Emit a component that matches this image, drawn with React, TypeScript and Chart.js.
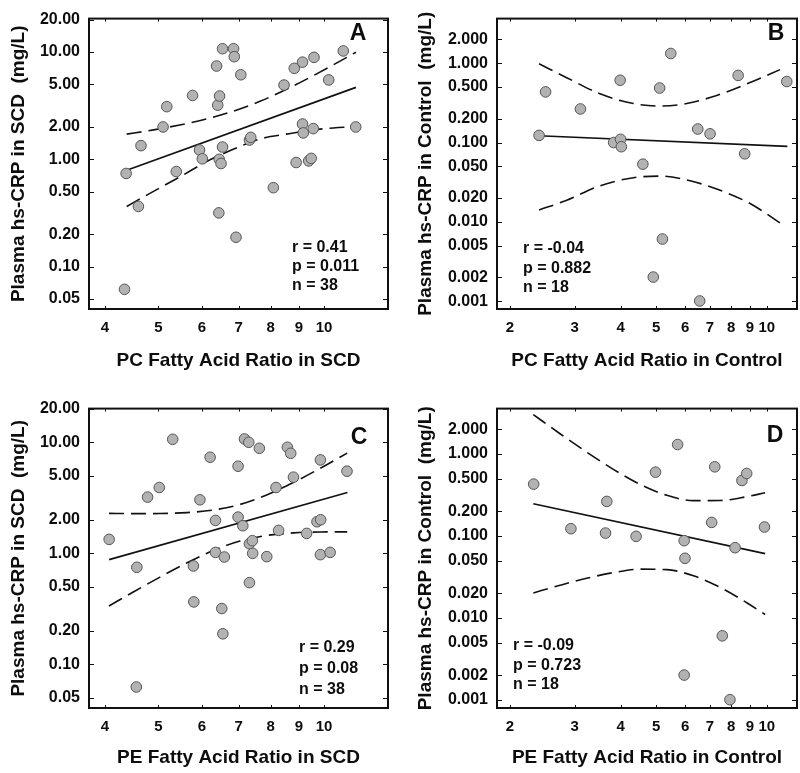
import React, { useEffect, useRef } from "react";
import { Chart, registerables } from "chart.js";

Chart.register(...registerables);

// ---------------- Data ----------------
// Panel A: PC fatty acid ratio vs hs-CRP in SCD
const A_X = [4.34, 4.37, 4.6, 4.65, 5.1, 5.18, 5.39, 5.77, 5.94, 6.01, 6.38, 6.41, 6.46, 6.44, 6.45, 6.5, 6.54, 6.54, 6.85, 6.87, 6.92, 7.06, 7.32, 7.36, 8.09, 8.46, 8.83, 8.9, 9.14, 9.14, 9.17, 9.38, 9.48, 9.56, 9.59, 10.2, 10.84, 11.42];
const A_Y = [0.0616, 0.738, 0.364, 1.34, 2.0, 3.09, 0.769, 3.93, 1.22, 1.01, 7.38, 3.19, 3.88, 0.317, 1.0, 0.914, 1.3, 10.7, 10.7, 9.02, 0.188, 6.12, 1.51, 1.6, 0.544, 4.91, 7.03, 0.933, 8.02, 2.13, 1.76, 0.966, 1.02, 1.93, 8.89, 5.48, 10.2, 2.0];
const A_FIT_X = [4.38, 11.43];
const A_FIT_Y = [0.79, 4.67];
const A_BAND_X = [4.38, 4.9, 5.47, 6.12, 6.84, 7.65, 8.55, 9.56, 10.4, 11.43];
const A_UPPER = [1.715, 1.877, 2.087, 2.373, 2.802, 3.467, 4.487, 6.003, 7.574, 9.93];
const A_LOWER = [0.364, 0.503, 0.685, 0.953, 1.239, 1.546, 1.715, 1.876, 1.956, 2.011];
const A_STATS = ["r = 0.41", "p = 0.011", "n = 38"];

// Panel B: PC fatty acid ratio vs hs-CRP in Control
const B_X = [2.4, 2.5, 3.11, 3.83, 3.99, 4.0, 4.02, 4.6, 4.91, 5.11, 5.2, 5.48, 6.49, 6.57, 7.01, 8.36, 8.71, 11.34];
const B_Y = [0.1229, 0.4346, 0.2648, 0.1, 0.609, 0.1098, 0.0886, 0.0534, 0.00202, 0.486, 0.00609, 1.324, 0.148, 0.00101, 0.1288, 0.7007, 0.0721, 0.5866];
const B_FIT_X = [2.4, 11.38];
const B_FIT_Y = [0.1217, 0.0894];
const B_BAND_X = [2.4, 2.854, 3.516, 4.334, 5.122, 6.055, 7.308, 9.008, 10.87];
const B_UPPER = [0.981, 0.656, 0.411, 0.31, 0.288, 0.31, 0.392, 0.57, 0.829];
const B_LOWER = [0.01414, 0.01873, 0.02852, 0.03605, 0.03778, 0.03378, 0.02598, 0.01705, 0.00972];
const B_STATS = ["r = -0.04", "p = 0.882", "n = 18"];

// Panel C: PE fatty acid ratio vs hs-CRP in SCD
const C_X = [4.07, 4.57, 4.56, 4.78, 5.02, 5.31, 5.79, 5.8, 5.95, 6.21, 6.35, 6.35, 6.52, 6.59, 6.55, 6.98, 6.98, 7.12, 7.17, 7.3, 7.32, 7.32, 7.41, 7.42, 7.63, 7.87, 8.18, 8.27, 8.58, 8.7, 8.8, 9.3, 9.71, 9.85, 9.86, 9.85, 10.26, 11.01];
const C_Y = [1.336, 0.749, 0.0626, 3.21, 3.915, 10.64, 0.77, 0.3655, 3.034, 7.335, 1.979, 1.02, 0.3184, 0.927, 0.1886, 6.087, 2.12, 1.772, 10.71, 10.0, 1.221, 0.545, 1.3, 1.0, 8.83, 0.934, 3.915, 1.609, 9.02, 7.96, 4.85, 1.512, 1.925, 6.94, 2.006, 0.973, 1.02, 5.49];
const C_FIT_X = [4.07, 11.03];
const C_FIT_Y = [0.877, 3.53];
const C_BAND_X = [4.067, 4.503, 5.035, 5.628, 6.293, 7.036, 7.867, 8.796, 9.835, 11.02];
const C_UPPER = [2.292, 2.278, 2.284, 2.328, 2.455, 2.755, 3.353, 4.342, 5.816, 7.988];
const C_LOWER = [0.3358, 0.4488, 0.6113, 0.8189, 1.06, 1.29, 1.448, 1.527, 1.557, 1.561];
const C_STATS = ["r = 0.29", "p = 0.08", "n = 38"];

// Panel D: PE fatty acid ratio vs hs-CRP in Control
const D_X = [2.32, 2.93, 3.64, 3.67, 4.41, 4.98, 5.72, 5.96, 5.99, 5.96, 7.08, 7.22, 7.57, 7.94, 8.2, 8.56, 8.82, 9.86];
const D_Y = [0.4277, 0.1225, 0.1084, 0.2633, 0.0988, 0.5985, 1.299, 0.0875, 0.0534, 0.002015, 0.1462, 0.695, 0.00606, 0.00101, 0.0719, 0.4738, 0.5766, 0.1283];
const D_FIT_X = [2.315, 9.9];
const D_FIT_Y = [0.2466, 0.0608];
const D_BAND_X = [2.315, 2.737, 3.235, 3.824, 4.519, 5.342, 6.315, 7.465, 8.823, 9.9];
const D_UPPER = [3.008, 1.759, 1.049, 0.6474, 0.4253, 0.3125, 0.269, 0.2702, 0.3009, 0.3355];
const D_LOWER = [0.02021, 0.02503, 0.03046, 0.03571, 0.03936, 0.03885, 0.03269, 0.0236, 0.01535, 0.01102];
const D_STATS = ["r = -0.09", "p = 0.723", "n = 18"];

// Tick values and labels
const X_TICKS_SCD = [4, 5, 6, 7, 8, 9, 10];
const X_LABELS_SCD = ["4", "5", "6", "7", "8", "9", "10"];
const X_TICKS_CTRL = [2, 3, 4, 5, 6, 7, 8, 9, 10];
const X_LABELS_CTRL = ["2", "3", "4", "5", "6", "7", "8", "9", "10"];
const Y_TICKS_SCD = [0.05, 0.1, 0.2, 0.5, 1, 2, 5, 10, 20];
const Y_LABELS_SCD = ["0.05", "0.10", "0.20", "0.50", "1.00", "2.00", "5.00", "10.00", "20.00"];
const Y_TICKS_CTRL = [0.001, 0.002, 0.005, 0.01, 0.02, 0.05, 0.1, 0.2, 0.5, 1, 2];
const Y_LABELS_CTRL = ["0.001", "0.002", "0.005", "0.010", "0.020", "0.050", "0.100", "0.200", "0.500", "1.000", "2.000"];

// ---------------- Styling ----------------
const FONT = '"Liberation Sans", Arial, Helvetica, sans-serif';
const TXT = "#0d0d0d";

const toPts = (xs: number[], ys: number[]) => xs.map((x, i) => ({ x, y: ys[i] }));

type PanelCfg = {
  left: number; top: number; w: number; h: number;
  padTop: number; padRight: number; yW: number; xH: number;
  xMin: number; xMax: number; yMin: number; yMax: number;
  xTicks: number[]; xLabels: string[]; yTicks: number[]; yLabels: string[];
  xTitle: string; yTitle: string; xTitlePad: number; yTitlePad: number;
  px: number[]; py: number[]; fx: number[]; fy: number[];
  bx: number[]; bu: number[]; bl: number[];
  stats: string[]; statsX: number; statsY: number[];
  letter: string; letterX: number; letterY: number;
};

const PANELS: PanelCfg[] = [
  {
    left: 0, top: 0, w: 400, h: 390, padTop: 9, padRight: 12, yW: 89, xH: 81,
    xMin: 3.741, xMax: 13.07, yMin: 0.0404, yMax: 20.4,
    xTicks: X_TICKS_SCD, xLabels: X_LABELS_SCD, yTicks: Y_TICKS_SCD, yLabels: Y_LABELS_SCD,
    xTitle: "PC Fatty Acid Ratio in SCD", yTitle: "Plasma hs-CRP in SCD  (mg/L)", xTitlePad: 18, yTitlePad: 7,
    px: A_X, py: A_Y, fx: A_FIT_X, fy: A_FIT_Y, bx: A_BAND_X, bu: A_UPPER, bl: A_LOWER,
    stats: A_STATS, statsX: 292, statsY: [248, 267, 286],
    letter: "A", letterX: 358, letterY: 34,
  },
  {
    left: 400, top: 0, w: 400, h: 390, padTop: 9, padRight: 3, yW: 97, xH: 81,
    xMin: 1.8435, xMax: 12.09, yMin: 0.0008, yMax: 3.64,
    xTicks: X_TICKS_CTRL, xLabels: X_LABELS_CTRL, yTicks: Y_TICKS_CTRL, yLabels: Y_LABELS_CTRL,
    xTitle: "PC Fatty Acid Ratio in Control", yTitle: "Plasma hs-CRP in Control  (mg/L)", xTitlePad: 18, yTitlePad: 14,
    px: B_X, py: B_Y, fx: B_FIT_X, fy: B_FIT_Y, bx: B_BAND_X, bu: B_UPPER, bl: B_LOWER,
    stats: B_STATS, statsX: 123, statsY: [249, 269, 288],
    letter: "B", letterX: 376, letterY: 34,
  },
  {
    left: 0, top: 390, w: 400, h: 383, padTop: 18, padRight: 12, yW: 89, xH: 65,
    xMin: 3.741, xMax: 13.07, yMin: 0.0405, yMax: 20.1,
    xTicks: X_TICKS_SCD, xLabels: X_LABELS_SCD, yTicks: Y_TICKS_SCD, yLabels: Y_LABELS_SCD,
    xTitle: "PE Fatty Acid Ratio in SCD", yTitle: "Plasma hs-CRP in SCD  (mg/L)", xTitlePad: 4, yTitlePad: 7,
    px: C_X, py: C_Y, fx: C_FIT_X, fy: C_FIT_Y, bx: C_BAND_X, bu: C_UPPER, bl: C_LOWER,
    stats: C_STATS, statsX: 299, statsY: [258, 279, 300],
    letter: "C", letterX: 359, letterY: 48,
  },
  {
    left: 400, top: 390, w: 400, h: 383, padTop: 18, padRight: 3, yW: 97, xH: 65,
    xMin: 1.8435, xMax: 12.09, yMin: 0.0008, yMax: 3.56,
    xTicks: X_TICKS_CTRL, xLabels: X_LABELS_CTRL, yTicks: Y_TICKS_CTRL, yLabels: Y_LABELS_CTRL,
    xTitle: "PE Fatty Acid Ratio in Control", yTitle: "Plasma hs-CRP in Control  (mg/L)", xTitlePad: 4, yTitlePad: 14,
    px: D_X, py: D_Y, fx: D_FIT_X, fy: D_FIT_Y, bx: D_BAND_X, bu: D_UPPER, bl: D_LOWER,
    stats: D_STATS, statsX: 113, statsY: [256, 276, 295],
    letter: "D", letterX: 375, letterY: 46,
  },
];

function Panel({ cfg }: { cfg: PanelCfg }) {
  const ref = useRef<HTMLCanvasElement | null>(null);

  useEffect(() => {
    const canvas = ref.current;
    if (!canvas) return;

    const framePlugin = {
      id: "frame",
      afterDatasetsDraw(chart: any) {
        const { ctx, chartArea: ca, scales } = chart;
        const xs = scales.x;
        const ys = scales.y;
        ctx.save();
        ctx.strokeStyle = "#111";
        ctx.lineWidth = 1;
        ctx.beginPath();
        cfg.xTicks.forEach((v) => {
          const p = Math.round(xs.getPixelForValue(v)) + 0.5;
          ctx.moveTo(p, ca.bottom);
          ctx.lineTo(p, ca.bottom - 3);
          ctx.moveTo(p, ca.top);
          ctx.lineTo(p, ca.top + 3);
        });
        cfg.yTicks.forEach((v) => {
          const p = Math.round(ys.getPixelForValue(v)) + 0.5;
          ctx.moveTo(ca.left, p);
          ctx.lineTo(ca.left + 5, p);
          ctx.moveTo(ca.right, p);
          ctx.lineTo(ca.right - 5, p);
        });
        ctx.stroke();
        ctx.lineWidth = 2;
        ctx.strokeRect(ca.left, ca.top, ca.right - ca.left, ca.bottom - ca.top);

        ctx.fillStyle = TXT;
        ctx.textBaseline = "middle";
        ctx.textAlign = "left";
        ctx.font = `bold 16px ${FONT}`;
        cfg.stats.forEach((s, i) => ctx.fillText(s, cfg.statsX, cfg.statsY[i]));
        ctx.textAlign = "center";
        ctx.font = `bold 23px ${FONT}`;
        ctx.fillText(cfg.letter, cfg.letterX, cfg.letterY);
        ctx.restore();
      },
    };

    const chart = new Chart(canvas, {
      type: "scatter",
      data: {
        datasets: [
          {
            label: "data",
            data: toPts(cfg.px, cfg.py),
            backgroundColor: "#b2b2b2",
            borderColor: "#555555",
            borderWidth: 1,
            pointRadius: 5.3,
            showLine: false,
            order: 0,
          },
          {
            label: "fit",
            data: toPts(cfg.fx, cfg.fy),
            showLine: true,
            borderColor: "#111",
            borderWidth: 1.7,
            pointRadius: 0,
            order: 1,
          },
          {
            label: "upper",
            data: toPts(cfg.bx, cfg.bu),
            showLine: true,
            borderColor: "#111",
            borderWidth: 1.6,
            borderDash: [15, 7],
            pointRadius: 0,
            cubicInterpolationMode: "monotone",
            order: 2,
          },
          {
            label: "lower",
            data: toPts(cfg.bx, cfg.bl),
            showLine: true,
            borderColor: "#111",
            borderWidth: 1.6,
            borderDash: [15, 7],
            pointRadius: 0,
            cubicInterpolationMode: "monotone",
            order: 3,
          },
        ],
      } as any,
      options: {
        animation: false,
        responsive: false,
        devicePixelRatio: 1,
        events: [],
        layout: {
          autoPadding: false,
          padding: { left: 0, top: cfg.padTop, right: cfg.padRight, bottom: 0 },
        } as any,
        plugins: {
          legend: { display: false },
          tooltip: { enabled: false },
        },
        scales: {
          x: {
            type: "logarithmic",
            min: cfg.xMin,
            max: cfg.xMax,
            bounds: "data",
            grid: { display: false, drawTicks: false },
            border: { display: false },
            afterBuildTicks: (s: any) => {
              s.ticks = cfg.xTicks.map((v) => ({ value: v }));
            },
            afterFit: (s: any) => {
              s.height = cfg.xH;
            },
            ticks: {
              autoSkip: false,
              maxRotation: 0,
              minRotation: 0,
              padding: 10,
              color: TXT,
              font: { family: FONT, size: 15, weight: "bold" },
              callback: (_v: any, i: number) => cfg.xLabels[i],
            },
            title: {
              display: true,
              text: cfg.xTitle,
              color: TXT,
              font: { family: FONT, size: 19, weight: "bold" },
              padding: { top: 0, bottom: cfg.xTitlePad },
            },
          },
          y: {
            type: "logarithmic",
            min: cfg.yMin,
            max: cfg.yMax,
            bounds: "data",
            grid: { display: false, drawTicks: false },
            border: { display: false },
            afterBuildTicks: (s: any) => {
              s.ticks = cfg.yTicks.map((v) => ({ value: v }));
            },
            afterFit: (s: any) => {
              s.width = cfg.yW;
            },
            ticks: {
              autoSkip: false,
              padding: 9,
              color: TXT,
              font: { family: FONT, size: 16, weight: "bold" },
              callback: (_v: any, i: number) => cfg.yLabels[i],
            },
            title: {
              display: true,
              text: cfg.yTitle,
              color: TXT,
              font: { family: FONT, size: 19, weight: "bold" },
              padding: { top: cfg.yTitlePad, bottom: 0 },
            },
          },
        } as any,
      },
      plugins: [framePlugin],
    });

    return () => chart.destroy();
  }, [cfg]);

  return (
    <canvas
      ref={ref}
      width={cfg.w}
      height={cfg.h}
      style={{ position: "absolute", left: cfg.left, top: cfg.top, width: cfg.w, height: cfg.h, display: "block" }}
    />
  );
}

export default function App() {
  return (
    <div style={{ position: "absolute", left: 0, top: 0, width: 800, height: 773, background: "#fff" }}>
      {PANELS.map((p, i) => (
        <Panel key={i} cfg={p} />
      ))}
    </div>
  );
}
